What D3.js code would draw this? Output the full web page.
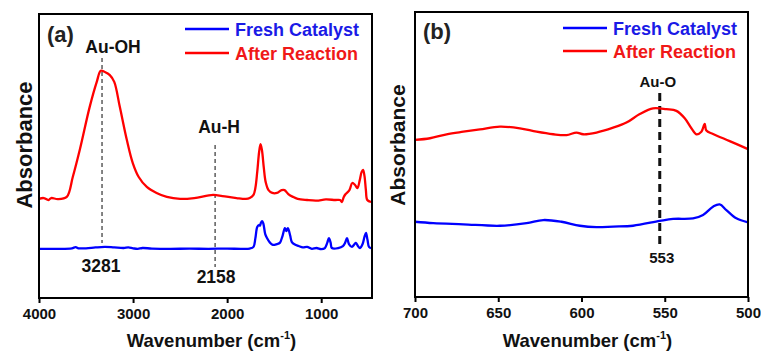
<!DOCTYPE html>
<html>
<head>
<meta charset="utf-8">
<script src="https://cdn.jsdelivr.net/npm/d3@7"></script>
<style>
  html, body { margin: 0; padding: 0; background: #fff; }
  svg { display: block; font-family: "Liberation Sans", Arial, sans-serif; font-weight: bold; }
</style>
</head>
<body>
<div id="chart"></div>
<script>
// ---- data (wavenumber, absorbance a.u.) ----
const seriesNames = ['Fresh Catalyst', 'After Reaction'];
const seriesColors = ['#0000ff', '#ff0000'];

const freshA = [[4000,0.173],[3800,0.173],[3650,0.175],[3610,0.179],[3580,0.175],[3500,0.175],[3400,0.178],
  [3300,0.180],[3200,0.178],[3100,0.176],[3050,0.178],[3000,0.175],[2950,0.173],[2900,0.176],[2800,0.174],
  [2600,0.173],[2400,0.174],[2200,0.173],[2000,0.174],[1850,0.173],[1760,0.174],[1720,0.180],[1700,0.21],
  [1680,0.25],[1662,0.257],[1650,0.255],[1641,0.265],[1628,0.271],[1615,0.262],[1595,0.225],[1578,0.212],
  [1545,0.195],[1514,0.187],[1470,0.190],[1440,0.194],[1410,0.22],[1386,0.246],[1370,0.236],[1354,0.246],
  [1330,0.22],[1312,0.197],[1280,0.188],[1240,0.183],[1195,0.178],[1150,0.180],[1100,0.173],[1050,0.176],
  [1000,0.172],[961,0.176],[935,0.195],[918,0.211],[900,0.195],[886,0.176],[820,0.176],[769,0.183],
  [745,0.195],[726,0.211],[705,0.190],[673,0.180],[650,0.188],[631,0.194],[610,0.183],[588,0.176],
  [560,0.19],[540,0.215],[524,0.229],[508,0.205],[492,0.180],[470,0.176]];

const afterA = [[4000,0.349],[3950,0.352],[3900,0.345],[3870,0.352],[3800,0.348],[3705,0.356],[3641,0.426],
  [3567,0.521],[3461,0.673],[3386,0.761],[3343,0.800],[3300,0.796],[3247,0.785],[3200,0.761],[3141,0.673],
  [3066,0.556],[3003,0.475],[2940,0.426],[2854,0.391],[2750,0.370],[2641,0.356],[2500,0.349],[2350,0.352],
  [2150,0.363],[2050,0.359],[1900,0.352],[1800,0.349],[1760,0.352],[1720,0.363],[1700,0.387],[1680,0.444],
  [1660,0.514],[1645,0.542],[1630,0.521],[1610,0.458],[1590,0.408],[1560,0.380],[1520,0.370],[1470,0.370],
  [1420,0.380],[1390,0.380],[1350,0.366],[1300,0.356],[1250,0.349],[1150,0.345],[1050,0.343],[950,0.347],
  [850,0.345],[800,0.345],[780,0.338],[760,0.356],[740,0.366],[700,0.380],[670,0.405],[640,0.398],
  [615,0.387],[590,0.415],[570,0.444],[555,0.451],[540,0.430],[525,0.380],[510,0.345],[470,0.338]];

const freshB = [[700,0.264],[689,0.259],[671,0.255],[649,0.250],[633,0.259],[623,0.270],[612,0.264],
  [601,0.250],[591,0.245],[581,0.247],[569,0.250],[553,0.267],[545,0.274],[533,0.276],[527,0.288],
  [521,0.317],[517,0.325],[513,0.305],[507,0.276],[500,0.262]];

const afterB = [[700,0.551],[691,0.557],[681,0.571],[671,0.580],[661,0.588],[649,0.598],[637,0.592],
  [627,0.580],[617,0.571],[609,0.568],[603,0.577],[599,0.571],[591,0.577],[581,0.594],[573,0.612],
  [565,0.642],[557,0.662],[549,0.659],[543,0.653],[538,0.627],[534,0.592],[531,0.571],[528,0.580],
  [526,0.607],[525,0.584],[521,0.572],[511,0.547],[500,0.519]];

const ticksA = [4000, 3000, 2000, 1000];
const ticksB = [700, 650, 600, 550, 500];

// peak markers: where the dashed line is drawn, its label, y extent
const markersA = [
  { at: 3330, label: '3281', name: 'Au-OH', y0: 0.845, y1: 0.194 },
  { at: 2128, label: '2158', name: 'Au-H',  y0: 0.539, y1: 0.109 }
];
const markersB = [
  { at: 553, label: '553', name: 'Au-O', y0: 0.716, y1: 0.182 }
];

const W = 761, H = 353;
const svg = d3.select('#chart').append('svg').attr('width', W).attr('height', H);

function panel(opt) {
  const x = d3.scaleLinear().domain(opt.xDomain).range([opt.left, opt.right]);
  const y = d3.scaleLinear().domain([0, 1]).range([opt.bottom, opt.top]);
  const g = svg.append('g');

  const line = d3.line()
    .x(d => x(d[0]))
    .y(d => y(d[1]))
    .curve(d3.curveCatmullRom.alpha(0.5));

  // markers (under the curves)
  opt.markers.forEach(m => {
    g.append('line')
      .attr('x1', x(m.at)).attr('x2', x(m.at))
      .attr('y1', y(m.y0)).attr('y2', y(m.y1))
      .style('stroke', opt.markStroke)
      .style('stroke-width', opt.markWidth)
      .style('stroke-dasharray', opt.markDash);
  });

  [opt.fresh, opt.after].forEach((data, i) => {
    g.append('path')
      .attr('d', line(data))
      .style('fill', 'none')
      .style('stroke', seriesColors[i])
      .style('stroke-width', 2.3)
      .style('stroke-linejoin', 'round');
  });

  // frame
  g.append('rect')
    .attr('x', opt.left).attr('y', opt.top)
    .attr('width', opt.right - opt.left).attr('height', opt.bottom - opt.top)
    .style('fill', 'none').style('stroke', '#000').style('stroke-width', 2);

  const axis = g.append('g')
    .attr('transform', `translate(0,${opt.bottom})`)
    .call(d3.axisBottom(x).tickValues(opt.ticks).tickSize(5).tickPadding(5).tickFormat(d3.format('d')));
  axis.select('.domain').remove();
  axis.selectAll('.tick line').style('stroke', '#000').style('stroke-width', 2);
  axis.selectAll('.tick text')
    .style('font-size', '15px').style('font-weight', 'bold')
    .style('font-family', '"Liberation Sans", Arial, sans-serif').style('fill', '#111');

  // axis titles
  const xt = g.append('text')
    .attr('x', (opt.left + opt.right) / 2 + 6).attr('y', 347)
    .attr('text-anchor', 'middle').style('font-size', '18.5px').style('fill', '#111');
  xt.append('tspan').text('Wavenumber (cm');
  xt.append('tspan').attr('dy', -8).style('font-size', '11px').text('-1');
  xt.append('tspan').attr('dy', 8).text(')');

  g.append('text')
    .attr('transform', `translate(${opt.yTitleX},145) rotate(-90)`)
    .attr('text-anchor', 'middle')
    .style('font-size', opt.yTitleSize).style('fill', '#111')
    .text('Absorbance');

  // panel letter
  g.append('text')
    .attr('x', opt.left + 8).attr('y', opt.letterY)
    .style('font-size', '22px').style('fill', '#222')
    .text(opt.letter);

  // legend
  seriesNames.forEach((name, i) => {
    const ly = opt.legendY[i];
    g.append('line')
      .attr('x1', opt.legendX).attr('x2', opt.legendX + 44)
      .attr('y1', ly).attr('y2', ly)
      .style('stroke', seriesColors[i]).style('stroke-width', 2.5);
    g.append('text')
      .attr('x', opt.legendX + 50).attr('y', ly + 7)
      .style('font-size', '18px').style('fill', i === 0 ? '#1a1ae6' : '#f01818')
      .text(name);
  });

  // marker labels
  opt.markers.forEach((m, i) => {
    const lb = opt.markLabels[i];
    g.append('text')
      .attr('x', x(m.at) + lb.nameDx).attr('y', lb.nameY)
      .attr('text-anchor', 'middle')
      .style('font-size', lb.size).style('fill', '#111')
      .text(m.name);
    g.append('text')
      .attr('x', x(m.at) + lb.valDx).attr('y', lb.valY)
      .attr('text-anchor', 'middle')
      .style('font-size', lb.size).style('fill', '#111')
      .text(m.label);
  });
}

panel({
  left: 39, right: 372, top: 14, bottom: 298,
  xDomain: [4000, 460], ticks: ticksA,
  fresh: freshA, after: afterA,
  markers: markersA, markStroke: '#333', markWidth: 1.2, markDash: '4,3',
  markLabels: [
    { nameDx: 11, nameY: 53, valDx: -1, valY: 272, size: '17.5px' },
    { nameDx: 4, nameY: 133, valDx: 1, valY: 283, size: '17.5px' }
  ],
  yTitleX: 32, yTitleSize: '22px',
  letter: '(a)', letterY: 42,
  legendX: 185, legendY: [29, 53]
});

panel({
  left: 415, right: 748, top: 12, bottom: 297,
  xDomain: [700, 500], ticks: ticksB,
  fresh: freshB, after: afterB,
  markers: markersB, markStroke: '#111', markWidth: 3, markDash: '8,5',
  markLabels: [
    { nameDx: -2, nameY: 87, valDx: 2, valY: 263, size: '15px' }
  ],
  yTitleX: 405, yTitleSize: '21px',
  letter: '(b)', letterY: 39,
  legendX: 563, legendY: [28, 51]
});
</script>
</body>
</html>
